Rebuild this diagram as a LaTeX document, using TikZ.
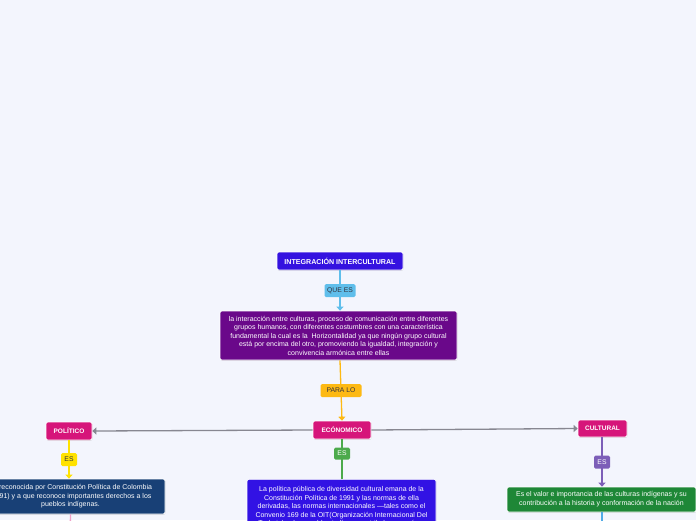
\documentclass[tikz,border=0pt]{standalone}
\usepackage{fontspec}
\setmainfont{Liberation Sans}
\usetikzlibrary{arrows.meta,shadows}
\definecolor{bg}{RGB}{243,245,253}
\definecolor{titleblue}{RGB}{52,18,224}
\definecolor{qblue}{RGB}{95,190,235}
\definecolor{purp}{RGB}{106,8,138}
\definecolor{orng}{RGB}{253,185,19}
\definecolor{mag}{RGB}{214,21,122}
\definecolor{gry}{RGB}{135,135,145}
\definecolor{yel}{RGB}{255,226,0}
\definecolor{navy}{RGB}{24,64,118}
\definecolor{grn}{RGB}{76,170,76}
\definecolor{vio}{RGB}{50,18,228}
\definecolor{lav}{RGB}{124,94,184}
\definecolor{dgrn}{RGB}{30,135,55}
\definecolor{pinkl}{RGB}{240,160,200}
\definecolor{lblue}{RGB}{80,170,230}
\definecolor{dtext}{RGB}{50,50,60}
\begin{document}
\begin{tikzpicture}[x=1pt,y=-1pt,
  box/.style={rounded corners=2pt, draw=white, line width=0.7pt, align=center,
    inner sep=0pt, text=white, font=\fontsize{7}{8.5}\selectfont,
    drop shadow={shadow xshift=0.4pt, shadow yshift=-0.8pt, opacity=0.25}},
  head/.style={box, font=\bfseries\fontsize{6.5}{7}\selectfont},
  lbl/.style={rounded corners=1.5pt, inner sep=0pt, minimum height=13pt,
    font=\fontsize{6.8}{7}\selectfont, text=dtext},
  conn/.style={line width=1.3pt},
  tip/.style={-{Triangle[width=7pt,length=4pt]}}]
\useasboundingbox (0,0) rectangle (696,520);
\clip (0,0) rectangle (696,520);
\fill[bg] (0,0) rectangle (696,520);

% nodes
\node[head, fill=titleblue, minimum width=126pt, minimum height=18pt, font=\bfseries\fontsize{7.1}{8}\selectfont] (title) at (340,261) {INTEGRACIÓN INTERCULTURAL};
\node[box, fill=purp, minimum width=237pt, minimum height=49pt] (purp) at (338.5,335.5)
 {la interacción entre culturas, proceso de comunicación entre diferentes\\
  grupos humanos, con diferentes costumbres con una característica\\
  fundamental la cual es la \ Horizontalidad ya que ningún grupo cultural\\
  está por encima del otro, promoviendo la igualdad, integración y\\
  convivencia armónica entre ellas};
\node[head, fill=mag, minimum width=58pt, minimum height=18pt] (econ) at (342,430) {ECÓNOMICO};
\node[head, fill=mag, minimum width=46pt, minimum height=18pt] (pol) at (69,431) {POLÍTICO};
\node[head, fill=mag, minimum width=49pt, minimum height=17pt] (cult) at (602.5,428.5) {CULTURAL};

\node[box, fill=navy, minimum width=189pt, minimum height=35pt] (lbox) at (70.5,496.5)
 {Es reconocida por Constitución Política de Colombia\\
  (1991) y a que reconoce importantes derechos a los\\
  pueblos indígenas.};
\node[box, fill=vio, minimum width=189pt, inner ysep=7pt, anchor=north] (mbox) at (341.5,479)
 {La política pública de diversidad cultural emana de la\\
  Constitución Política de 1991 y las normas de ella\\
  derivadas, las normas internacionales —tales como el\\
  Convenio 169 de la OIT(Organización Internacional Del\\
  Trabajo) sobre pueblos indígenas y tribales en países};
\node[box, fill=dgrn, minimum width=189pt, minimum height=25pt, font=\fontsize{7}{9}\selectfont] (rbox) at (601.5,499.5)
 {Es el valor e importancia de las culturas indígenas y su\\
  contribución a la historia y conformación de la nación};

\coordinate (pEnd) at (70,540);
\coordinate (bEnd) at (602,540);

% connectors
\draw[conn, qblue, tip] (title.south) -- (title.south |- purp.north)
  node[lbl, fill=qblue, midway, minimum width=31pt] (queEs) {QUE ES};
\draw[conn, orng, tip] ([xshift=1.5pt]purp.south) -- (econ.north)
  node[lbl, fill=orng, midway, minimum width=41pt] (paraLo) {PARA LO};
\draw[conn, gry, tip] (econ.west) -- (pol.east);
\draw[conn, gry, tip] (econ.east) -- (cult.west);
\draw[conn, yel, tip] (pol.south) -- (pol.south |- lbox.north)
  node[lbl, fill=yel, midway, minimum width=16pt] (esY) {ES};
\draw[conn, grn] (econ.south) -- (econ.south |- mbox.north)
  node[lbl, fill=grn, pos=0.36, minimum width=16pt, minimum height=12pt, text=white] (esG) {ES};
\draw[conn, lav, tip] ([xshift=-0.5pt]cult.south) -- ([xshift=-0.5pt]cult.south |- rbox.north)
  node[lbl, fill=lav, midway, minimum width=16pt, text=white] (esV) {ES};
\draw[conn, pinkl] (lbox.south) -- (pEnd);
\draw[conn, lblue] ([xshift=0.5pt]rbox.south) -- (bEnd);
\end{tikzpicture}
\end{document}
